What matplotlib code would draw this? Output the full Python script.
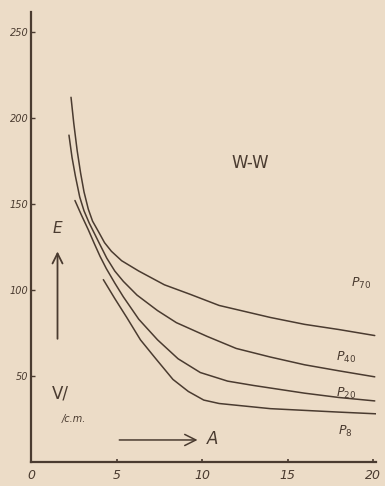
import matplotlib
matplotlib.use("Agg")
import matplotlib.pyplot as plt

# values (A on x, E in V/cm on y)
p70_a = [2.34, 2.5, 2.7, 2.9, 3.1, 3.35, 3.6, 3.94, 4.3, 4.7, 5.3, 6.3, 7.8, 9.3, 11.0, 12.5, 14.0, 16.0, 18.0, 20.1]
p70_e = [212, 197, 181, 168, 157, 147, 140, 134, 127.5, 122.5, 117, 111, 103, 97.5, 91, 87.5, 84, 80, 77, 73.5]

p40_a = [2.22, 2.4, 2.6, 2.85, 3.1, 3.4, 3.7, 4.0, 4.43, 4.9, 5.4, 6.2, 7.4, 8.5, 10.3, 12.0, 14.0, 16.0, 18.0, 20.1]
p40_e = [190, 177, 166, 154, 146, 139, 133, 127, 118.5, 111, 105, 97, 88, 81, 73, 66, 61, 56.5, 53, 49.5]

p20_a = [2.57, 2.95, 3.35, 3.7, 4.04, 4.4, 4.9, 5.4, 6.3, 7.4, 8.6, 9.9, 11.5, 13.0, 14.0, 16.0, 18.0, 20.1]
p20_e = [152, 143.5, 135, 127, 119.5, 112.5, 104, 96, 83, 71, 60, 52, 47, 44.5, 43, 40, 37.5, 35.5]

p8_a = [4.23, 4.9, 5.6, 6.4, 7.3, 8.3, 9.2, 10.1, 11.0, 12.5, 14.0, 16.0, 18.0, 20.2]
p8_e = [106, 95, 84, 71, 60, 48, 41, 36, 34, 32.5, 31, 30, 29, 28]

x_ticks = [0, 5, 10, 15, 20]
x_tick_labels = ["0", "5", "10", "15", "20"]
y_ticks = [50, 100, 150, 200, 250]
y_tick_labels = ["50", "100", "150", "200", "250"]

curve_names = ["P$_{70}$", "P$_{40}$", "P$_{20}$", "P$_{8}$"]

paper = "#ecdcc7"
ink = "#4a3b30"

fig = plt.figure(figsize=(3.85, 4.86), dpi=100)
fig.patch.set_facecolor(paper)
ax = fig.add_axes([0.0805, 0.0494, 0.896, 0.926])
ax.set_facecolor(paper)

for a, e in [(p70_a, p70_e), (p40_a, p40_e), (p20_a, p20_e), (p8_a, p8_e)]:
    ax.plot(a, e, color=ink, lw=1.1, solid_capstyle="round", solid_joinstyle="round")

ax.set_xlim(0, 20.17)
ax.set_ylim(0, 261.6)
for s in ["top", "right"]:
    ax.spines[s].set_visible(False)
ax.spines["left"].set_color(ink)
ax.spines["bottom"].set_color(ink)
ax.spines["left"].set_linewidth(1.6)
ax.spines["bottom"].set_linewidth(1.6)

ax.set_xticks(x_ticks)
ax.set_xticklabels(x_tick_labels, fontstyle="italic", fontsize=9, color=ink)
ax.set_yticks(y_ticks)
ax.set_yticklabels(y_tick_labels, fontstyle="italic", fontsize=7, color=ink)
ax.tick_params(axis="y", direction="in", length=3, width=1, color=ink, pad=2)
ax.tick_params(axis="x", direction="in", length=2, width=1.2, color=ink, pad=5)

# curve labels at the right end
ax.text(19.9, 102, curve_names[0], fontsize=9, fontstyle="italic", color=ink, ha="right")
ax.text(19.0, 58.5, curve_names[1], fontsize=9, fontstyle="italic", color=ink, ha="right")
ax.text(19.0, 38, curve_names[2], fontsize=9, fontstyle="italic", color=ink, ha="right")
ax.text(18.8, 15.5, curve_names[3], fontsize=9, fontstyle="italic", color=ink, ha="right")

ax.text(12.8, 174, "W-W", fontsize=12, color=ink, ha="center", va="center")

# axis annotations
ax.annotate("", xy=(1.55, 124), xytext=(1.55, 70),
            arrowprops=dict(arrowstyle="->", color=ink, lw=1.3, mutation_scale=18))
ax.text(1.55, 136, "E", fontsize=11, fontstyle="italic", color=ink, ha="center", va="center")
ax.text(1.7, 40, "V/", fontsize=12, color=ink, ha="center", va="center")
ax.text(2.5, 25, "/c.m.", fontsize=7, fontstyle="italic", color=ink, ha="center", va="center")

ax.annotate("", xy=(9.9, 12.8), xytext=(5.0, 12.8),
            arrowprops=dict(arrowstyle="->", color=ink, lw=1.1, mutation_scale=20))
ax.text(10.6, 13.5, "A", fontsize=12, fontstyle="italic", color=ink, ha="center", va="center")

fig.savefig("out.png", dpi=100, facecolor=paper)
